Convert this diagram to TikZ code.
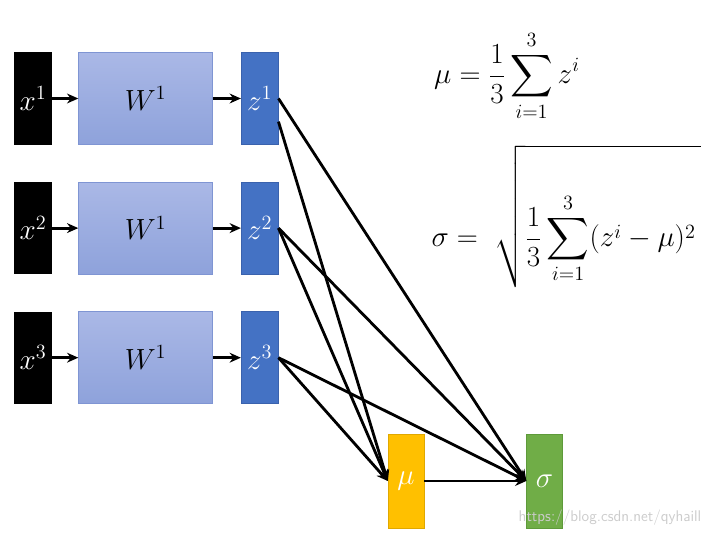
\documentclass[tikz,border=0pt]{standalone}
\usepackage{amsmath,amssymb}
\usepackage{tikz}
\usetikzlibrary{arrows.meta,positioning,calc}
\definecolor{wtop}{HTML}{AAB8E6}
\definecolor{wbot}{HTML}{8EA2DB}
\definecolor{wedge}{HTML}{7F95D3}
\definecolor{zblue}{HTML}{4472C4}
\definecolor{zedge}{HTML}{3A62AD}
\definecolor{muyel}{HTML}{FFC000}
\definecolor{muedge}{HTML}{E0A800}
\definecolor{siggreen}{HTML}{70AD47}
\definecolor{sigedge}{HTML}{5E9A3A}
\tikzstyle{inbox}=[fill=black,minimum width=0.95cm,minimum height=2.3cm,inner sep=0pt,text=white,font=\fontsize{20}{24}\selectfont]
\tikzstyle{wbox}=[draw=wedge,top color=wtop,bottom color=wbot,minimum width=3.35cm,minimum height=2.3cm,inner sep=0pt,font=\fontsize{20}{24}\selectfont]
\tikzstyle{zbox}=[draw=zedge,fill=zblue,minimum width=0.925cm,minimum height=2.3cm,inner sep=0pt,text=white,font=\fontsize{20}{24}\selectfont]
\tikzstyle{mubox}=[draw=muedge,fill=muyel,minimum width=0.9cm,minimum height=2.35cm,inner sep=0pt,text=white,font=\fontsize{20}{24}\selectfont]
\tikzstyle{sigbox}=[draw=sigedge,fill=siggreen,minimum width=0.9cm,minimum height=2.35cm,inner sep=0pt,text=white,font=\fontsize{20}{24}\selectfont]
\tikzstyle{link}=[line width=2pt,-{Stealth[length=8pt,width=7pt]}]
\begin{document}
\begin{tikzpicture}[x=0.025cm,y=-0.025cm]
\useasboundingbox (0,0) rectangle (715,537);
% three input rows
\node [inbox] (x1) at (33,98.5) {$x^1$};
\node [wbox, right=0.65cm of x1] (w1) {$W^1$};
\node [zbox, right=0.7cm of w1] (z1) {$z^1$};
\node [inbox, below=0.925cm of x1] (x2) {$x^2$};
\node [wbox, right=0.65cm of x2] (w2) {$W^1$};
\node [zbox, right=0.7cm of w2] (z2) {$z^2$};
\node [inbox, below=0.925cm of x2] (x3) {$x^3$};
\node [wbox, right=0.65cm of x3] (w3) {$W^1$};
\node [zbox, right=0.7cm of w3] (z3) {$z^3$};
% mean and deviation
\node [mubox] (mu) at (406,481) {$\mu$};
\node [sigbox, right=2.55cm of mu] (sig) {$\sigma$};
\foreach \i in {1,2,3} {
  \draw [link] (x\i) -- (w\i);
  \draw [link] (w\i) -- (z\i);
}
\draw [link] (z1.east) -- (sig.west);
\draw [link] ($(z1.east)!0.5!(z1.south east)$) -- (mu.west);
\foreach \i in {2,3} {
  \draw [link] (z\i.east) -- (mu.west);
  \draw [link] (z\i.east) -- (sig.west);
}
\draw [link] (mu) -- (sig);
% formulas
\node [font=\fontsize{21}{25}\selectfont] (mueq) at (507,76) {$\displaystyle \mu = \frac{1}{3}\sum_{i=1}^{3} z^i$};
\node [font=\fontsize{21}{25}\selectfont] (sigeq) at (566,216.5) {$\displaystyle \sigma = \;\sqrt{\rule[-22pt]{0pt}{86.5pt}\frac{1}{3}\sum_{i=1}^{3}(z^i-\mu)^2\,}$};
\node [text=gray!40, font=\sffamily\fontsize{11}{13}\selectfont] (mark) at (610,518) {https://blog.csdn.net/qyhaill};
\end{tikzpicture}
\end{document}
